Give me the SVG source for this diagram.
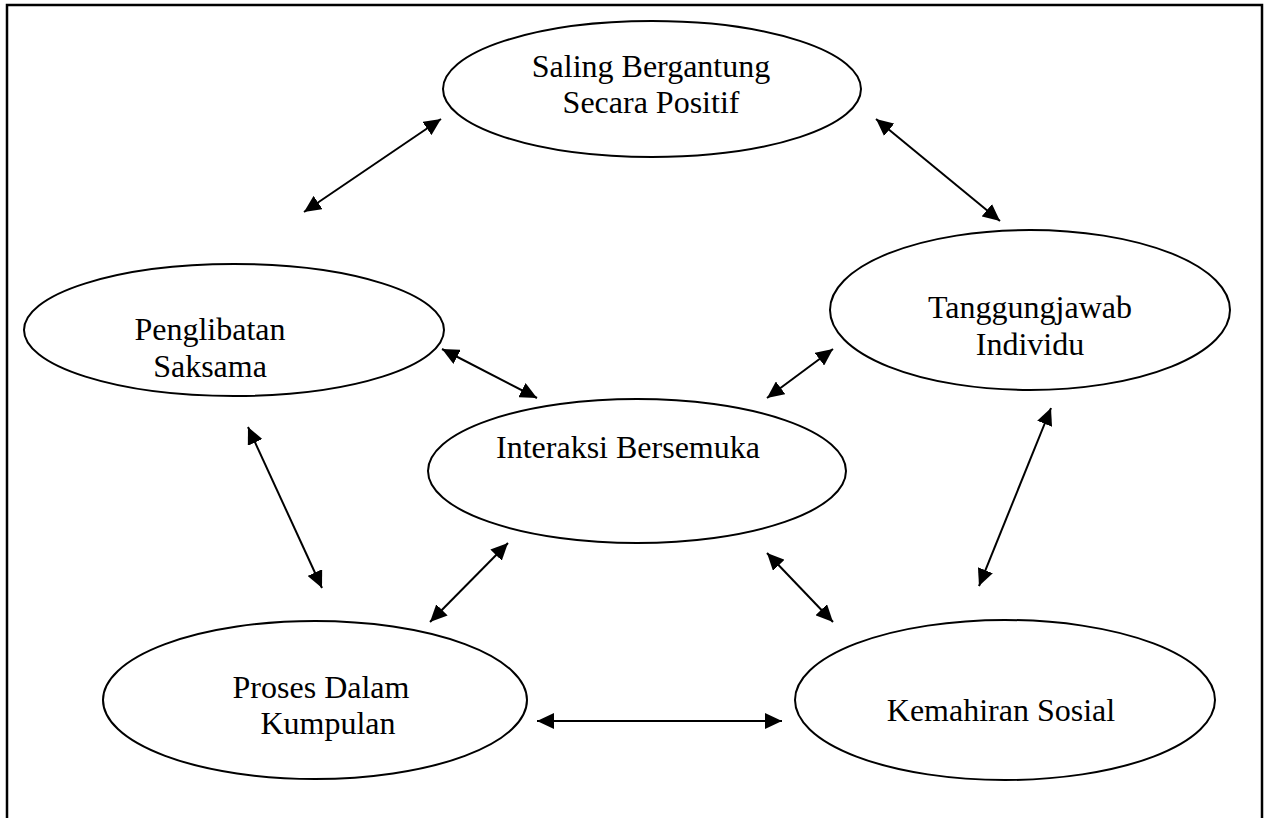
<svg xmlns="http://www.w3.org/2000/svg" width="1264" height="818" viewBox="0 0 1264 818">
<style>
.node ellipse{fill:#fff;stroke:#000;stroke-width:2}
.node text{font-family:"Liberation Serif","Times New Roman",serif;font-size:32px;fill:#000;text-anchor:middle}
#connectors line{stroke:#000;stroke-width:2;marker-start:url(#ah);marker-end:url(#ah)}
</style>
<defs>
<marker id="ah" markerUnits="userSpaceOnUse" markerWidth="18" markerHeight="16" refX="17" refY="8" orient="auto-start-reverse" viewBox="0 0 18 16">
<path d="M0,0 L17,8 L0,16 Z" fill="#000"/>
</marker>
</defs>
<rect width="1264" height="818" fill="#fff"/>
<path d="M7,818 V5 H1262 V818" fill="none" stroke="#000" stroke-width="2.5"/>
<g id="n1" class="node"><ellipse cx="652" cy="89" rx="209" ry="68"/><text x="651" y="77">Saling Bergantung</text><text x="651" y="113">Secara Positif</text></g>
<g id="n2" class="node"><ellipse cx="234" cy="330" rx="210" ry="66"/><text x="210" y="340">Penglibatan</text><text x="210" y="377">Saksama</text></g>
<g id="n3" class="node"><ellipse cx="1030" cy="310" rx="200" ry="80"/><text x="1030" y="318">Tanggungjawab</text><text x="1030" y="355">Individu</text></g>
<g id="n4" class="node"><ellipse cx="637" cy="471" rx="209" ry="72"/><text x="628" y="458">Interaksi Bersemuka</text></g>
<g id="n5" class="node"><ellipse cx="315" cy="700" rx="212" ry="79"/><text x="321" y="698">Proses Dalam</text><text x="328" y="734">Kumpulan</text></g>
<g id="n6" class="node"><ellipse cx="1005" cy="700" rx="210" ry="80"/><text x="1001" y="721">Kemahiran Sosial</text></g>
<g id="connectors">
<line x1="441" y1="119" x2="304" y2="212"/>
<line x1="876" y1="119" x2="1000" y2="221"/>
<line x1="442" y1="349" x2="537" y2="398"/>
<line x1="833" y1="349" x2="767" y2="398"/>
<line x1="248" y1="427" x2="322" y2="588"/>
<line x1="1051" y1="408" x2="979" y2="586"/>
<line x1="508" y1="543" x2="430" y2="622"/>
<line x1="767" y1="553" x2="833" y2="622"/>
<line x1="537" y1="721" x2="782" y2="721"/>
</g>
</svg>
